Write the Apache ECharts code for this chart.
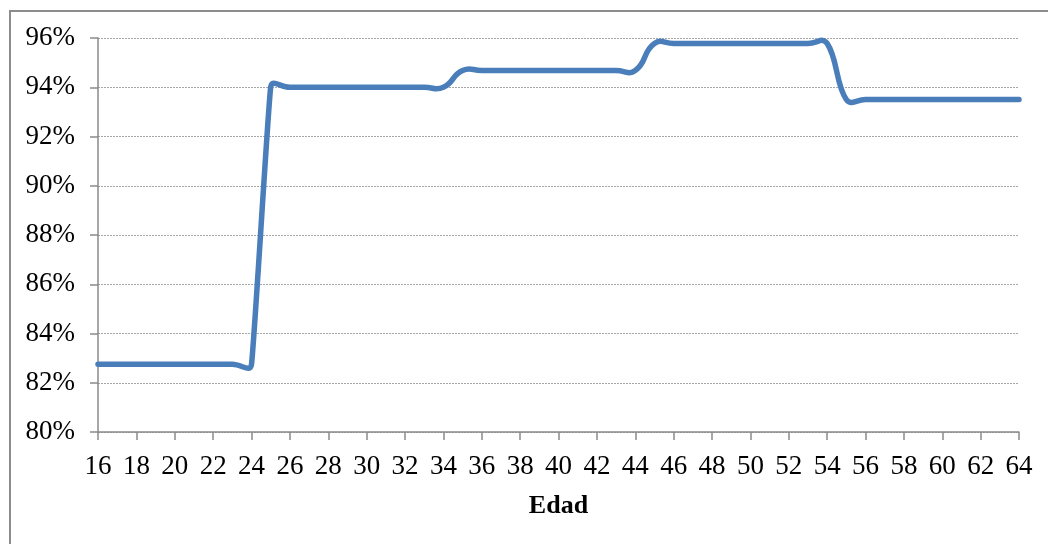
<!DOCTYPE html>
<html>
<head>
<meta charset="utf-8">
<script src="https://cdn.jsdelivr.net/npm/echarts@6/dist/echarts.min.js"></script>
<style>
  html, body { margin: 0; padding: 0; background: #fff; }
  #chart { width: 1048px; height: 544px; }
</style>
</head>
<body>
<div id="chart"></div>
<script>
// Ages (x) and share per age, in percent
const ages = [16,17,18,19,20,21,22,23,24,25,26,27,28,29,30,31,32,33,34,35,36,37,38,39,40,
              41,42,43,44,45,46,47,48,49,50,51,52,53,54,55,56,57,58,59,60,61,62,63,64];
const shares = [
  82.75,82.75,82.75,82.75,82.75,82.75,82.75,82.75,82.75,
  94.0,94.0,94.0,94.0,94.0,94.0,94.0,94.0,94.0,94.0,
  94.68,94.68,94.68,94.68,94.68,94.68,94.68,94.68,94.68,94.68,
  95.78,95.78,95.78,95.78,95.78,95.78,95.78,95.78,95.78,95.78,
  93.5,93.5,93.5,93.5,93.5,93.5,93.5,93.5,93.5,93.5
];
const xAxisTitle = 'Edad';
const yTicks = { min: 80, max: 96, step: 2 };
const xTicks = { min: 16, max: 64, step: 2 };

const points = ages.map((a, i) => [a, shares[i]]);
const serif = '"Liberation Serif", "Times New Roman", serif';
const SMOOTH = 0.5;

// Smoothed path through pixel points. Control arms follow the neighbour chord,
// are split by segment length, and are capped at the shorter adjacent segment,
// so steps overshoot a little while long jumps stay nearly straight.
function smoothPath(pts) {
  const n = pts.length;
  const cpIn = [], cpOut = [];
  for (let i = 0; i < n; i++) {
    const p = pts[i];
    if (i === 0 || i === n - 1) { cpIn.push(p); cpOut.push(p); continue; }
    const prev = pts[i - 1], next = pts[i + 1];
    const vx = next[0] - prev[0], vy = next[1] - prev[1];
    const vl = Math.hypot(vx, vy) || 1;
    const lp = Math.hypot(p[0] - prev[0], p[1] - prev[1]);
    const ln = Math.hypot(next[0] - p[0], next[1] - p[1]);
    const r = ln / (ln + lp);
    const cap = Math.min(lp, ln);
    const armIn = Math.min(vl * SMOOTH * (1 - r), cap);
    const armOut = Math.min(vl * SMOOTH * r, cap);
    cpIn.push([p[0] - vx / vl * armIn, p[1] - vy / vl * armIn]);
    cpOut.push([p[0] + vx / vl * armOut, p[1] + vy / vl * armOut]);
  }
  let d = 'M' + pts[0][0] + ' ' + pts[0][1];
  for (let i = 1; i < n; i++) {
    const a = cpOut[i - 1], b = cpIn[i], p = pts[i];
    d += ' C' + a[0] + ' ' + a[1] + ' ' + b[0] + ' ' + b[1] + ' ' + p[0] + ' ' + p[1];
  }
  return d;
}

const chart = echarts.init(document.getElementById('chart'), null, { renderer: 'canvas' });
chart.setOption({
  animation: false,
  backgroundColor: '#ffffff',
  graphic: [{
    type: 'rect',
    shape: { x: 10, y: 11, width: 1200, height: 700 },
    style: { fill: 'none', stroke: '#8c8c8c', lineWidth: 2 },
    silent: true,
    z: -1
  }],
  grid: { left: 98, right: 29, top: 38, bottom: 112, containLabel: false },
  xAxis: {
    type: 'value',
    min: xTicks.min, max: xTicks.max, interval: xTicks.step,
    name: xAxisTitle,
    nameLocation: 'middle',
    nameGap: 61,
    nameTextStyle: { fontFamily: serif, fontSize: 26, fontWeight: 'bold', color: '#000' },
    axisLine: { lineStyle: { color: '#8a8a8a', width: 1.5 } },
    axisTick: { show: true, length: 8, lineStyle: { color: '#8a8a8a', width: 1.5 } },
    axisLabel: { fontFamily: serif, fontSize: 27, color: '#000', margin: 21 },
    splitLine: { show: false }
  },
  yAxis: {
    type: 'value',
    min: yTicks.min, max: yTicks.max, interval: yTicks.step,
    axisLine: { show: true, lineStyle: { color: '#8a8a8a', width: 1.5 } },
    axisTick: { show: true, length: 8, lineStyle: { color: '#8a8a8a', width: 1.5 } },
    axisLabel: { fontFamily: serif, fontSize: 27, color: '#000', margin: 23,
                 formatter: v => v + '%' },
    splitLine: { show: true, lineStyle: { color: '#a6a6a6', width: 1, type: [2, 1] } }
  },
  series: [{
    type: 'custom',
    data: points,
    encode: { x: 0, y: 1 },
    clip: false,
    renderItem: function (params, api) {
      if (params.dataIndex !== 0) return null;
      const px = points.map(pt => api.coord(pt));
      return {
        type: 'path',
        shape: { pathData: smoothPath(px) },
        style: { fill: null, stroke: '#4a7ebb', lineWidth: 5.5, lineCap: 'round', lineJoin: 'round' }
      };
    }
  }]
});
</script>
</body>
</html>
